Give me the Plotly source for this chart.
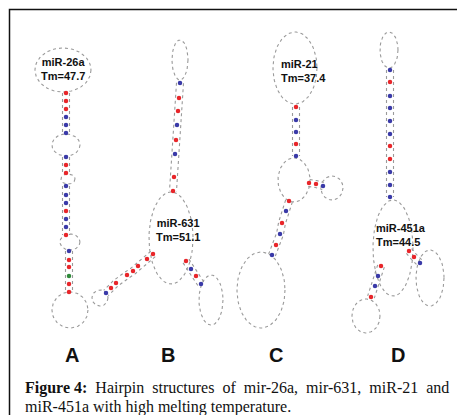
import numpy as np
import plotly.graph_objects as go

W, H = 465, 415
COL = {"r": "#e8262a", "b": "#3a3aa8", "g": "#2f8a3a"}

# stems: (list of pair centres, colour codes)
stems = {
    "A1": ([(58, 85), (58, 93), (58, 101), (58, 109), (58, 117), (58, 125)], "rrrbbb"),
    "A2": ([(58, 149), (58, 157), (58, 165)], "brr"),
    "A3": ([(58, 178), (58, 187), (58, 195), (58, 203), (58, 211), (58, 219), (58, 227)], "bbbrbbr"),
    "A4": ([(61, 243), (61, 252), (61, 259), (61, 268), (61, 276), (61, 284)], "brrgrr"),
    "B1": ([(172, 75), (171, 90), (170, 103), (169, 117), (168, 132), (167, 146), (166, 169), (165, 183)], "brrbrbrr"),
    "B2": ([(145, 246), (139, 251), (130, 258), (125, 263), (119, 267), (108, 275), (103, 280), (98, 285)], "rrrrrrrb"),
    "B3": ([(178, 253), (183, 261), (188, 268), (193, 276)], "rbrb"),
    "C1": ([(288, 99), (288, 112), (288, 124), (288, 136), (288, 148)], "rbbrb"),
    "C2": ([(301, 175), (308, 176), (315, 178)], "rrb"),
    "C3": ([(281, 193), (278, 203), (274, 215), (272, 226), (268, 237), (264, 247)], "rbrbrb"),
    "D1": ([(382, 62), (382, 74), (382, 88), (382, 100), (382, 113), (382, 126), (382, 138),
            (382, 151), (382, 164), (382, 177), (382, 189)], "brbbbbrrbbb"),
    "D2": ([(401, 243), (406, 249), (412, 255)], "rrb"),
    "D3": ([(373, 258), (370, 268), (367, 278), (363, 289)], "rbbr"),
}
# loops: centre x, centre y, radius x, radius y
loops = [
    (55, 62, 28, 22), (58, 137, 14, 11), (60, 171, 7, 5), (62, 234, 10, 8), (62, 302, 18, 18),
    (172, 52, 8, 20), (163, 230, 22, 46), (92, 290, 8, 8), (203, 292, 12, 25),
    (287, 60, 22, 36), (286, 172, 16, 22), (324, 180, 11, 12), (253, 282, 24, 38),
    (381, 42, 9, 18), (385, 240, 20, 48), (422, 270, 14, 28), (358, 308, 14, 17),
]
labels = [("miR-26a<br>Tm=47.7", 55, 61, "center"), ("miR-631<br>Tm=51.1", 170, 222, "center"),
          ("miR-21<br>Tm=37.4", 271, 63, "left"), ("miR-451a<br>Tm=44.5", 366, 227, "left")]
letters = [("A", 64, 347), ("B", 160, 347), ("C", 268, 347), ("D", 390, 347)]
caption1 = ["<b>Figure 4:</b>", "Hairpin", "structures", "of", "mir-26a,", "mir-631,", "miR-21", "and"]
caption2 = "miR-451a with high melting temperature."

fig = go.Figure()
dot = dict(color="#9a9a9a", width=1.1, dash="dot")
for cx, cy, rx, ry in loops:
    t = np.linspace(0, 2 * np.pi, 80)
    fig.add_trace(go.Scatter(x=cx + rx * np.cos(t), y=cy + ry * np.sin(t), mode="lines", line=dot, hoverinfo="skip"))
for pts, cols in stems.values():
    p = np.array(pts, float)
    d = p[-1] - p[0]
    d /= np.linalg.norm(d)
    n = np.array([-d[1], d[0]])
    for s in (-3.5, 3.5):
        q = p + s * n
        fig.add_trace(go.Scatter(x=q[:, 0], y=q[:, 1], mode="lines", line=dot, hoverinfo="skip"))
    fig.add_trace(go.Scatter(x=p[:, 0], y=p[:, 1], mode="markers",
                             marker=dict(size=4.5, color=[COL[c] for c in cols]), hoverinfo="skip"))

for txt, x, y, al in labels:
    fig.add_annotation(x=x, y=y, text=f"<b>{txt}</b>", showarrow=False, align=al,
                       xanchor="center" if al == "center" else "left",
                       font=dict(family="Liberation Sans, Arial", size=11, color="#111"))
for txt, x, y in letters:
    fig.add_annotation(x=x, y=y, text=f"<b>{txt}</b>", showarrow=False,
                       font=dict(family="Liberation Sans, Arial", size=20, color="#111"))
capfont = dict(family="Liberation Serif, Times New Roman", size=16, color="#111")
fig.add_annotation(x=15, y=380, xanchor="left", yanchor="middle", showarrow=False,
                   text="&nbsp; ".join(caption1), font=capfont)
fig.add_annotation(x=15, y=399, xanchor="left", yanchor="middle", showarrow=False,
                   text=caption2, font=capfont)
fig.add_shape(type="rect", x0=1.5, y0=1.5, x1=463, y1=412, line=dict(color="#111", width=1.5))

fig.update_layout(width=W, height=H, margin=dict(l=0, r=0, t=0, b=0), showlegend=False,
                  plot_bgcolor="white", paper_bgcolor="white",
                  xaxis=dict(range=[0, W], visible=False, fixedrange=True),
                  yaxis=dict(range=[H, 0], visible=False, fixedrange=True))
fig.write_html("out.html")
